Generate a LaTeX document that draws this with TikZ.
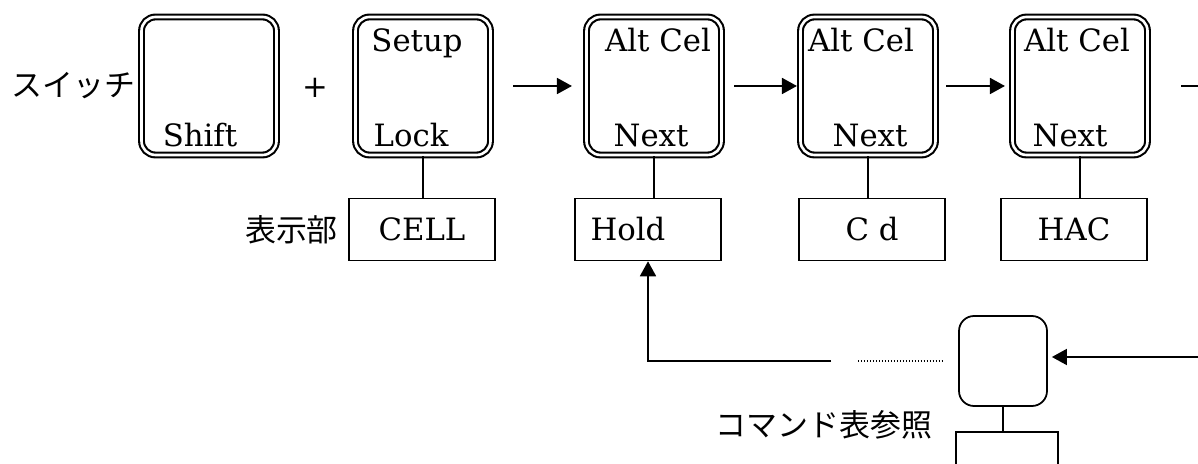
\documentclass[tikz,border=0pt]{standalone}
\usepackage{fontspec}
\newfontfamily\jfont{Noto Sans CJK JP}
\newfontfamily\keyfont{DejaVu Serif}
\usetikzlibrary{arrows.meta,positioning}

\begin{document}
\begin{tikzpicture}[x=1.0cm, y=1.0cm,
        key/.style={draw, double, line width=1.2pt, double distance=1.5pt, rounded corners=0.28cm,
            minimum width=2.70cm, minimum height=2.76cm, inner sep=0pt},
        keytext/.style={anchor=base, inner sep=0pt, font=\keyfont\fontsize{17.5}{21}\selectfont},
        disp/.style={draw, line width=0.9pt, minimum width=2.92cm, minimum height=1.24cm,
            inner sep=0pt, font=\keyfont\fontsize{17.5}{21}\selectfont},
        jtext/.style={inner sep=0pt, font=\jfont\fontsize{17.6}{20}\selectfont},
        flow/.style={line width=1pt, -{Triangle[length=0.3cm, width=0.32cm]}},
        link/.style={line width=1pt}]

        \useasboundingbox (0,0) rectangle (23.96,-9.28);

        % keys
        \node[key] (k1) at (4.18,-1.72) {};
        \node[key] (k2) at (8.46,-1.72) {};
        \node[key] (k3) at (13.08,-1.72) {};
        \node[key] (k4) at (17.36,-1.72) {};
        \node[key] (k5) at (21.60,-1.72) {};

        \node[keytext] (k1b) at (4.00,-2.94) {Shift};
        \node[keytext] (k2t) at (8.34,-1.04) {Setup};
        \node[keytext] (k2b) at (8.22,-2.94) {Lock};
        \node[keytext] (k3t) at (13.16,-1.04) {Alt Cel};
        \node[keytext] (k3b) at (13.02,-2.94) {Next};
        \node[keytext] (k4t) at (17.22,-1.04) {Alt Cel};
        \node[keytext] (k4b) at (17.40,-2.94) {Next};
        \node[keytext] (k5t) at (21.54,-1.04) {Alt Cel};
        \node[keytext] (k5b) at (21.40,-2.94) {Next};

        \node[jtext, left=0.1cm of k1] (sw) {スイッチ};
        \node[keytext, anchor=center] (plus) at (6.30,-1.76) {+};

        % display
        \node[disp] (cell) at (8.44,-4.59) {CELL};
        \node[disp, text width=2.3cm, align=left] (hold) at (12.96,-4.59) {Hold};
        \node[disp] (cd) at (17.44,-4.59) {C d};
        \node[disp] (hac) at (21.48,-4.59) {HAC};
        \node[jtext, left=0.2cm of cell] (dsp) {表示部};

        \draw[link] (k2.south) -- (k2.south |- cell.north);
        \draw[link] (k3.south) -- (k3.south |- hold.north);
        \draw[link] (k4.south) -- (k4.south |- cd.north);
        \draw[link] (k5.south) -- (k5.south |- hac.north);

        \draw[flow, shorten <=0.43cm, shorten >=0.27cm] (k2) -- (k3);
        \draw[flow, shorten <=0.23cm, shorten >=0.05cm] (k3) -- (k4);
        \draw[flow, shorten <=0.19cm, shorten >=0.13cm] (k4) -- (k5);
        \coordinate (nxt) at (24.3,-1.72);
        \draw[flow, shorten <=0.65cm] (k5) -- (nxt);

        % command
        \node[draw, line width=1pt, rounded corners=0.3cm, minimum width=1.76cm,
            minimum height=1.80cm] (cmd) at (20.06,-7.22) {};
        \node[draw, line width=0.9pt, minimum width=2.04cm, minimum height=1.2cm] (low) at (20.14,-9.24) {};
        \draw[link] (cmd.south) -- (cmd.south |- low.north);
        \node[jtext] (ref) at (16.48,-8.50) {コマンド表参照};

        \coordinate (inR) at (24.3,-7.14);
        \draw[flow, shorten >=0.08cm] (inR) -- (inR -| cmd.east);

        \coordinate (fbR) at (16.62,-7.22);
        \coordinate (dotA) at (17.16,-7.22);
        \coordinate (dotB) at (18.86,-7.22);
        \draw[line width=0.8pt, dash pattern=on 0.5pt off 1.2pt] (dotA) -- (dotB);
        \draw[flow] (fbR) -| (hold.south);
    \end{tikzpicture}
\end{document}
